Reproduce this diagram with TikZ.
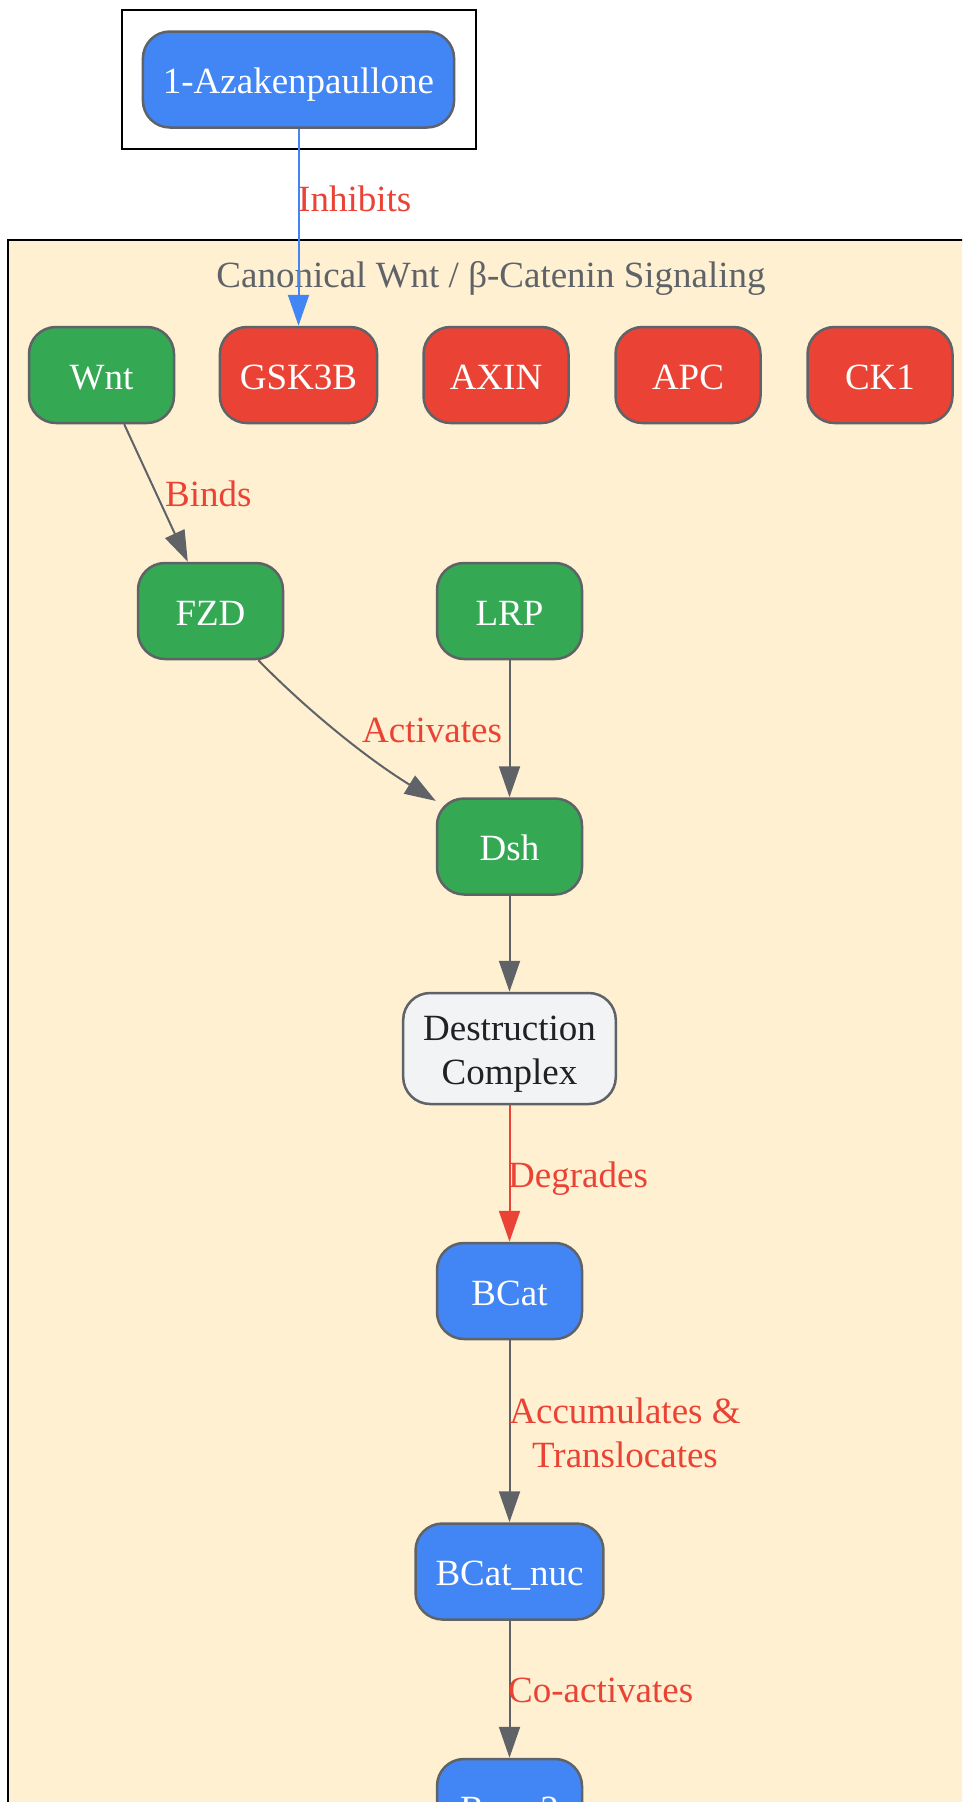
\documentclass[tikz,border=0pt]{standalone}
\usepackage{fontspec}
\setmainfont{Liberation Serif}
\usetikzlibrary{arrows.meta}
\definecolor{gblue}{HTML}{4285F4}
\definecolor{ggreen}{HTML}{34A853}
\definecolor{gred}{HTML}{EA4335}
\definecolor{ggray}{HTML}{5F6368}
\definecolor{glight}{HTML}{F1F3F4}
\definecolor{gdark}{HTML}{202124}
\definecolor{clusterfill}{HTML}{FEF0D0}
\begin{document}
\begin{tikzpicture}[x=1pt,y=-1pt,
  bigfont/.style={font=\fontsize{37}{44}\selectfont},
  box/.style={bigfont, draw=ggray, line width=2.5pt, rounded corners=27pt,
    minimum width=145pt, minimum height=96pt, inner xsep=20pt, inner ysep=0pt,
    text=white},
  single/.style={text height=28pt, text depth=0pt},
  bluebox/.style={box, single, fill=gblue},
  greenbox/.style={box, single, fill=ggreen},
  redbox/.style={box, single, fill=gred},
  lightbox/.style={box, fill=glight, text=gdark, align=center, minimum height=111pt,
    text height=79pt, text depth=8pt},
  elabel/.style={bigfont, text=gred, inner sep=0pt},
  conn/.style={draw=ggray, line width=2pt, -{Triangle[length=31pt,width=21pt]}},
  clusterbox/.style={line width=2.5pt, draw=black}
]
\useasboundingbox (0,0) rectangle (962,1802);
\clip (0,0) rectangle (962,1802);
% clusters
\draw[clusterbox, fill=white] (122,10) rectangle (476,149);
\draw[clusterbox, fill=clusterfill] (8,240) rectangle (1000,1900);
\node[bigfont, text=ggray, anchor=base, inner sep=0pt] (title) at (491,287) {Canonical Wnt / β-Catenin Signaling};
% nodes
\node[bluebox] (aza) at (298.5,79.5) {1-Azakenpaullone};
\node[greenbox] (wnt) at (101.5,375) {Wnt};
\node[redbox] (gsk) at (298.5,375) {GSK3B};
\node[redbox] (axin) at (496,375) {AXIN};
\node[redbox] (apc) at (688,375) {APC};
\node[redbox] (ck1) at (880,375) {CK1};
\node[greenbox] (fzd) at (210.5,611) {FZD};
\node[greenbox] (lrp) at (509.5,611) {LRP};
\node[greenbox] (dsh) at (509.5,846.5) {Dsh};
\node[lightbox] (dc) at (509.5,1048.5) {Destruction\\Complex};
\node[bluebox] (bcat) at (509.5,1291) {BCat};
\node[bluebox] (bnuc) at (509.5,1571.5) {BCat\_nuc};
\node[bluebox] (runx) at (509.5,1807) {Runx2};
% connectors
\draw[conn, draw=gblue, fill=gblue] (aza) -- (gsk);
\draw[conn] (wnt) -- (fzd);
\draw[conn] (fzd) .. controls (300,703) and (360,754) .. (dsh);
\draw[conn] (lrp) -- (dsh);
\draw[conn] (dsh) -- (dc);
\draw[conn, draw=gred, fill=gred] (dc) -- (bcat);
\draw[conn] (bcat) -- (bnuc);
\draw[conn] (bnuc) -- (runx);
% labels
\node[elabel, anchor=base west] (l1) at (298,211) {Inhibits};
\node[elabel, anchor=base west] (l2) at (165,506) {Binds};
\node[elabel, anchor=base west] (l3) at (362,742) {Activates};
\node[elabel, anchor=base west] (l4) at (508,1187) {Degrades};
\node[elabel, align=center] (l5) at (625,1433) {Accumulates \&\\Translocates};
\node[elabel, anchor=base west] (l6) at (508,1702) {Co-activates};
\end{tikzpicture}
\end{document}
